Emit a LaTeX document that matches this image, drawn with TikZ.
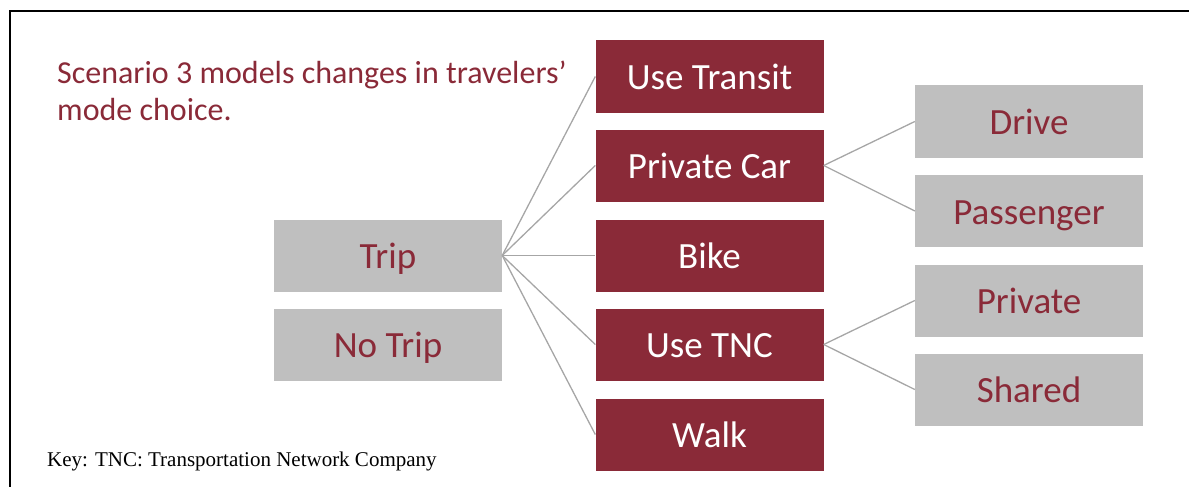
\documentclass[tikz,border=0pt]{standalone}
\usepackage{fontspec}
\setmainfont{Carlito}
\newfontfamily\keyfont{Liberation Serif}
\definecolor{maroon}{HTML}{8A2A38}
\definecolor{boxgray}{HTML}{BFBFBF}
\definecolor{linegray}{HTML}{A6A6A6}
\begin{document}
\begin{tikzpicture}[x=1pt,y=-1pt,
  mbox/.style={fill=maroon,text=white,minimum width=228pt,minimum height=72pt,inner sep=0pt,text height=30pt,text depth=4pt,font=\fontsize{37}{40}\selectfont},
  gbox/.style={fill=boxgray,text=maroon,minimum width=228pt,minimum height=72pt,inner sep=0pt,text height=30pt,text depth=4pt,font=\fontsize{37}{40}\selectfont},
  conn/.style={draw=linegray,line width=1.3pt}]
\useasboundingbox (0,0) rectangle (1189,487);
\draw[line width=2pt] (1189,11) -- (10,11) -- (10,487);
\node[anchor=west,text=maroon,align=left,inner sep=0pt,font=\fontsize{32}{37}\selectfont] (title) at (57,91) {Scenario 3 models changes in travelers’\\mode choice.};
\node[gbox] (trip) at (388,255.5) {Trip};
\node[gbox] (notrip) at (388,344.5) {No Trip};
\node[mbox] (transit) at (709.5,76.5) {Use Transit};
\node[mbox] (car) at (709.5,165.5) {Private Car};
\node[mbox] (bike) at (709.5,255.5) {Bike};
\node[mbox] (tnc) at (709.5,344.5) {Use TNC};
\node[mbox] (walk) at (709.5,434.5) {Walk};
\node[gbox] (drive) at (1029,121.5) {Drive};
\node[gbox] (pass) at (1029,211) {Passenger};
\node[gbox] (priv) at (1029,300.5) {Private};
\node[gbox] (shared) at (1029,389.5) {Shared};
\foreach \t in {transit,car,bike,tnc,walk} \draw[conn] (trip.east) -- (\t.west);
\draw[conn] (car.east) -- (drive.west);
\draw[conn] (car.east) -- (pass.west);
\draw[conn] (tnc.east) -- (priv.west);
\draw[conn] (tnc.east) -- (shared.west);
\node[anchor=west,inner sep=0pt,font=\keyfont\fontsize{21}{24}\selectfont] (key) at (47,461) {Key: TNC: Transportation Network Company};
\end{tikzpicture}
\end{document}
